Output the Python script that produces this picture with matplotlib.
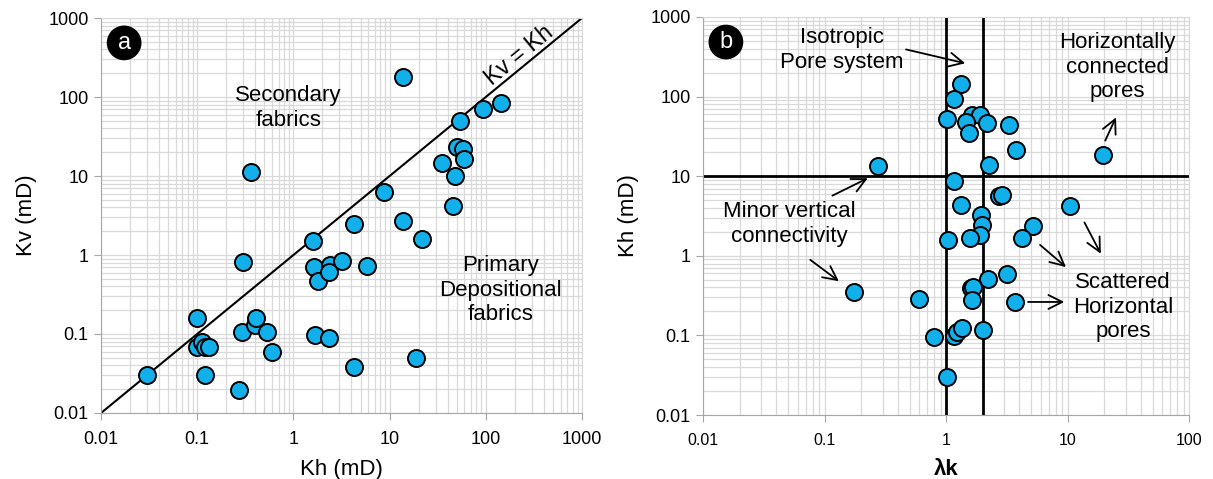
import matplotlib
matplotlib.use("Agg")
import matplotlib.pyplot as plt
from matplotlib.ticker import LogLocator, NullFormatter, FixedLocator, FixedFormatter

plt.rcParams['font.family'] = ['Liberation Sans', 'DejaVu Sans']

# panel a: horizontal vs vertical permeability (mD)
kh_a = [0.03, 0.10, 0.10, 0.112, 0.12, 0.133, 0.12, 0.27, 0.30, 0.29, 0.40, 0.41, 0.53, 0.60,
        0.36, 1.6, 1.65, 1.8, 2.4, 2.35, 3.2, 5.8, 1.67, 2.35, 4.27, 18.8,
        4.27, 8.7, 13.8, 13.8, 21.7, 35, 45.6, 48, 50, 58, 59, 54, 93.5, 144]
kv_a = [0.03, 0.16, 0.068, 0.079, 0.068, 0.068, 0.030, 0.0195, 0.81, 0.106, 0.13, 0.16, 0.106, 0.059,
        11.2, 1.5, 0.70, 0.47, 0.75, 0.61, 0.84, 0.73, 0.097, 0.089, 0.038, 0.05,
        2.47, 6.3, 179, 2.7, 1.6, 14.6, 4.2, 10, 23, 22, 16.4, 50, 70, 84]

# panel b: lambda k vs Kh (mD)
lam_b = [0.275, 0.175, 0.60, 1.33, 1.16, 1.02, 1.64, 1.9, 1.46, 1.55, 2.17, 3.3, 3.77, 2.26,
         19.6, 1.16, 2.75, 2.89, 1.33, 10.5, 1.94, 1.97, 1.9, 5.2, 4.2, 1.04, 1.57,
         3.18, 2.22, 1.6, 1.67, 1.64, 3.7, 0.80, 1.17, 1.22, 1.35, 2.02, 1.02]
kh_b = [13.4, 0.35, 0.29, 144, 93, 52, 59, 59, 48, 35, 46.6, 44, 21.3, 13.8,
        18.5, 8.7, 5.7, 5.8, 4.3, 4.2, 3.26, 2.44, 1.8, 2.37, 1.67, 1.58, 1.67,
        0.59, 0.51, 0.39, 0.40, 0.28, 0.26, 0.096, 0.098, 0.11, 0.124, 0.117, 0.030]

ticks_a = [0.01, 0.1, 1, 10, 100, 1000]
tick_labels = ['0.01', '0.1', '1', '10', '100', '1000']
ticks_bx = [0.01, 0.1, 1, 10, 100]
tick_labels_bx = ['0.01', '0.1', '1', '10', '100']

fill = '#12B0EA'
gridc = '#d9d9d9'
spinec = '#a6a6a6'

fig = plt.figure(figsize=(12.13, 4.79), dpi=100)
ax1 = fig.add_axes([0.0833, 0.1378, 0.3965, 0.8246])
ax2 = fig.add_axes([0.5796, 0.1336, 0.4007, 0.8310])


def style(ax, xt, xl, yt, yl, xfs):
    ax.set_xscale('log')
    ax.set_yscale('log')
    ax.set_xlim(xt[0], xt[-1])
    ax.set_ylim(yt[0], yt[-1])
    ax.xaxis.set_major_locator(FixedLocator(xt))
    ax.xaxis.set_major_formatter(FixedFormatter(xl))
    ax.yaxis.set_major_locator(FixedLocator(yt))
    ax.yaxis.set_major_formatter(FixedFormatter(yl))
    ax.xaxis.set_minor_locator(LogLocator(base=10, subs=range(2, 10), numticks=20))
    ax.yaxis.set_minor_locator(LogLocator(base=10, subs=range(2, 10), numticks=20))
    ax.xaxis.set_minor_formatter(NullFormatter())
    ax.yaxis.set_minor_formatter(NullFormatter())
    ax.grid(True, which='both', color=gridc, lw=0.9, zorder=0)
    ax.set_axisbelow(True)
    for s in ax.spines.values():
        s.set_color(gridc)
    ax.spines['left'].set_color(spinec)
    ax.spines['bottom'].set_color(spinec)
    ax.tick_params(which='major', length=5, color=spinec, labelsize=13, pad=4)
    ax.tick_params(axis='x', which='major', labelsize=xfs, pad=8)
    ax.tick_params(which='minor', length=0)


style(ax1, ticks_a, tick_labels, ticks_a, tick_labels, 13)
style(ax2, ticks_bx, tick_labels_bx, ticks_a, tick_labels, 11.5)

# panel a
ax1.plot([0.01, 1000], [0.01, 1000], color='black', lw=1.5, zorder=2)
ax1.scatter(kh_a, kv_a, s=150, c=fill, edgecolors='black', linewidths=1.4, zorder=3)
ax1.set_xlabel('Kh (mD)', fontsize=16, labelpad=8)
ax1.set_ylabel('Kv (mD)', fontsize=16, labelpad=8)
ax1.text(0.048, 0.937, 'a', transform=ax1.transAxes, ha='center', va='center', fontsize=17,
         color='white', bbox=dict(boxstyle='circle,pad=0.24', fc='black', ec='black'))
ax1.text(0.389, 0.772, 'Secondary\nfabrics', transform=ax1.transAxes, ha='center', va='center',
         fontsize=16)
ax1.text(0.830, 0.311, 'Primary\nDepositional\nfabrics', transform=ax1.transAxes, ha='center',
         va='center', fontsize=16)
ax1.text(0.869, 0.906, 'Kv = Kh', transform=ax1.transAxes, ha='center', va='center',
         fontsize=16.5, rotation=39.4)

# panel b
ax2.axvline(1, color='black', lw=2, zorder=2)
ax2.axvline(2, color='black', lw=2, zorder=2)
ax2.axhline(10, color='black', lw=2, zorder=2)
ax2.scatter(lam_b, kh_b, s=150, c=fill, edgecolors='black', linewidths=1.4, zorder=3)
ax2.set_xlabel('λk', fontsize=16, fontweight='bold', labelpad=8)
ax2.set_ylabel('Kh (mD)', fontsize=16, labelpad=8)
ax2.text(0.047, 0.937, 'b', transform=ax2.transAxes, ha='center', va='center', fontsize=17,
         color='white', bbox=dict(boxstyle='circle,pad=0.24', fc='black', ec='black'))

ap = dict(arrowstyle='->,head_length=1.0,head_width=0.5', color='black', lw=1.3)
T = ax2.transAxes
ax2.text(0.286, 0.917, 'Isotropic\nPore system', transform=T, ha='center', va='center', fontsize=16)
ax2.annotate('', xy=(0.545, 0.882), xytext=(0.412, 0.920), xycoords=T, textcoords=T, arrowprops=ap)
ax2.text(0.852, 0.874, 'Horizontally\nconnected\npores', transform=T, ha='center', va='center',
         fontsize=16)
ax2.annotate('', xy=(0.852, 0.754), xytext=(0.825, 0.683), xycoords=T, textcoords=T, arrowprops=ap)
ax2.text(0.177, 0.480, 'Minor vertical\nconnectivity', transform=T, ha='center', va='center',
         fontsize=16)
ax2.annotate('', xy=(0.344, 0.598), xytext=(0.261, 0.548), xycoords=T, textcoords=T, arrowprops=ap)
ax2.annotate('', xy=(0.284, 0.332), xytext=(0.216, 0.394), xycoords=T, textcoords=T, arrowprops=ap)
ax2.text(0.864, 0.271, 'Scattered\nHorizontal\npores', transform=T, ha='center', va='center',
         fontsize=16)
ax2.annotate('', xy=(0.751, 0.367), xytext=(0.689, 0.432), xycoords=T, textcoords=T, arrowprops=ap)
ax2.annotate('', xy=(0.821, 0.399), xytext=(0.782, 0.490), xycoords=T, textcoords=T, arrowprops=ap)
ax2.annotate('', xy=(0.749, 0.284), xytext=(0.663, 0.284), xycoords=T, textcoords=T, arrowprops=ap)

fig.savefig('out.png', dpi=100)
